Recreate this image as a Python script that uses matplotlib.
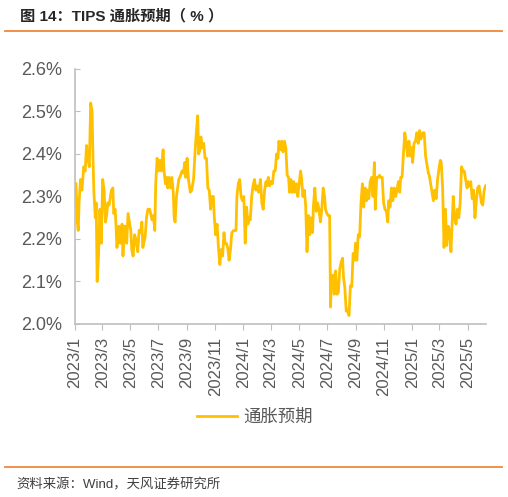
import matplotlib
matplotlib.use("Agg")
import matplotlib.pyplot as plt
import matplotlib.dates as mdates
from matplotlib.ticker import MultipleLocator, FuncFormatter
from matplotlib.lines import Line2D
import pandas as pd

plt.rcParams['font.family'] = ['Liberation Sans', 'Noto Sans CJK SC', 'DejaVu Sans']

# TIPS breakeven inflation (%)
days_2023 = [
    "01-03", "01-06", "01-08", "01-10", "01-13", "01-16", "01-20", "01-23", "01-26", "01-29",
    "02-01", "02-04", "02-07", "02-09", "02-11", "02-14", "02-16", "02-18", "02-21", "02-24",
    "02-27", "03-02", "03-05", "03-08", "03-11", "03-13", "03-16", "03-21", "03-24", "03-26",
    "03-29", "03-31", "04-02", "04-06", "04-09", "04-13", "04-15", "04-18", "04-20", "04-23",
    "04-26", "04-29", "05-02", "05-04", "05-07", "05-10", "05-13", "05-17", "05-20", "05-23",
    "05-26", "05-28", "06-02", "06-05", "06-08", "06-12", "06-17", "06-20", "06-23", "06-25",
    "06-28", "07-01", "07-04", "07-07", "07-11", "07-13", "07-16", "07-19", "07-21", "07-24",
    "07-27", "07-30", "08-02", "08-04", "08-06", "08-09", "08-14", "08-18", "08-21", "08-24",
    "08-27", "08-29", "09-01", "09-04", "09-08", "09-11", "09-15", "09-18", "09-21", "09-24",
    "09-26", "09-29", "10-01", "10-04", "10-07", "10-10", "10-13", "10-16", "10-19", "10-22",
    "10-25", "10-28", "10-30", "11-02", "11-05", "11-08", "11-11", "11-14", "11-17", "11-20",
    "11-22", "11-25", "11-28", "12-01", "12-04", "12-07", "12-11", "12-16", "12-18", "12-21",
    "12-24", "12-27", "12-30",
]
vals_2023 = [
    2.33, 2.24, 2.22, 2.29, 2.34, 2.315, 2.37, 2.36, 2.42, 2.39,
    2.37, 2.52, 2.50, 2.39, 2.31, 2.25, 2.285, 2.10, 2.16, 2.27,
    2.19, 2.34, 2.315, 2.24, 2.26, 2.285, 2.28, 2.315, 2.32, 2.26,
    2.27, 2.23, 2.18, 2.23, 2.19, 2.235, 2.16, 2.23, 2.23, 2.19,
    2.26, 2.24, 2.22, 2.175, 2.16, 2.21, 2.20, 2.17, 2.22, 2.215,
    2.24, 2.18, 2.205, 2.25, 2.27, 2.27, 2.245, 2.255, 2.22, 2.33,
    2.39, 2.36, 2.385, 2.36, 2.41, 2.36, 2.33, 2.345, 2.32, 2.345,
    2.32, 2.345, 2.31, 2.25, 2.24, 2.30, 2.34, 2.35, 2.36, 2.355,
    2.38, 2.345, 2.39, 2.34, 2.31, 2.315, 2.34, 2.40, 2.45, 2.49,
    2.40, 2.41, 2.44, 2.415, 2.425, 2.39, 2.39, 2.32, 2.315, 2.27,
    2.30, 2.30, 2.25, 2.21, 2.235, 2.18, 2.14, 2.175, 2.16, 2.215,
    2.19, 2.19, 2.18, 2.15, 2.175, 2.215, 2.22, 2.22, 2.30, 2.33,
    2.34, 2.30, 2.29,
]

days_2024 = [
    "01-02", "01-05", "01-08", "01-11", "01-13", "01-16", "01-19", "01-22", "01-25", "01-28",
    "01-31", "02-03", "02-07", "02-10", "02-13", "02-16", "02-19", "02-21", "02-24", "02-27",
    "03-01", "03-04", "03-07", "03-10", "03-13", "03-16", "03-18", "03-21", "03-24", "03-27",
    "03-30", "04-02", "04-05", "04-08", "04-10", "04-13", "04-16", "04-19", "04-22", "04-25",
    "04-28", "05-01", "05-04", "05-06", "05-09", "05-12", "05-15", "05-18", "05-21", "05-24",
    "05-27", "05-30", "06-01", "06-04", "06-07", "06-10", "06-13", "06-16", "06-19", "06-22",
    "06-25", "06-27", "06-30", "07-03", "07-06", "07-08", "07-10", "07-13", "07-16", "07-19",
    "07-22", "07-25", "07-28", "07-31", "08-03", "08-05", "08-08", "08-11", "08-14", "08-17",
    "08-20", "08-23", "08-26", "08-29", "08-31", "09-03", "09-06", "09-09", "09-12", "09-15",
    "09-18", "09-21", "09-24", "09-26", "09-29", "10-02", "10-05", "10-08", "10-11", "10-13",
    "10-16", "10-20", "10-22", "10-25", "10-28", "10-31", "11-03", "11-06", "11-09", "11-11",
    "11-14", "11-17", "11-20", "11-23", "11-26", "11-29", "12-02", "12-05", "12-07", "12-10",
    "12-13", "12-16", "12-19", "12-22", "12-25", "12-28", "12-31",
]
vals_2024 = [
    2.30, 2.19, 2.275, 2.235, 2.25, 2.245, 2.30, 2.325, 2.34, 2.315,
    2.325, 2.31, 2.34, 2.285, 2.27, 2.315, 2.335, 2.325, 2.345, 2.325,
    2.335, 2.33, 2.36, 2.36, 2.40, 2.39, 2.43, 2.41, 2.43, 2.405,
    2.43, 2.415, 2.35, 2.345, 2.31, 2.34, 2.31, 2.335, 2.31, 2.33,
    2.30, 2.33, 2.36, 2.345, 2.30, 2.315, 2.28, 2.17, 2.255, 2.21,
    2.25, 2.215, 2.28, 2.32, 2.265, 2.285, 2.27, 2.24, 2.27, 2.32,
    2.30, 2.27, 2.26, 2.255, 2.255, 2.04, 2.11, 2.115, 2.07, 2.125,
    2.07, 2.075, 2.13, 2.145, 2.155, 2.11, 2.085, 2.03, 2.035, 2.02,
    2.09, 2.088, 2.166, 2.15, 2.19, 2.15, 2.21, 2.205, 2.285, 2.33,
    2.275, 2.32, 2.29, 2.315, 2.295, 2.335, 2.345, 2.30, 2.38, 2.27,
    2.345, 2.345, 2.35, 2.345, 2.345, 2.285, 2.27, 2.265, 2.24, 2.29,
    2.275, 2.32, 2.29, 2.32, 2.30, 2.315, 2.335, 2.31, 2.345, 2.345,
    2.40, 2.45, 2.425, 2.395, 2.43, 2.395, 2.415,
]

days_2025 = [
    "01-02", "01-05", "01-08", "01-11", "01-14", "01-17", "01-20", "01-24", "01-27", "01-30",
    "02-02", "02-05", "02-07", "02-10", "02-13", "02-16", "02-19", "02-22", "02-25", "02-28",
    "03-03", "03-05", "03-08", "03-11", "03-14", "03-17", "03-20", "03-23", "03-26", "03-29",
    "03-31", "04-03", "04-06", "04-09", "04-12", "04-15", "04-18", "04-21", "04-24", "04-26",
    "04-30", "05-02", "05-05", "05-08", "05-11", "05-14", "05-17", "05-20", "05-23", "05-26",
    "05-28", "05-31", "06-03", "06-06", "06-09",
]
vals_2025 = [
    2.38, 2.425, 2.43, 2.45, 2.425, 2.455, 2.435, 2.45, 2.45, 2.395,
    2.375, 2.355, 2.35, 2.33, 2.31, 2.29, 2.315, 2.295, 2.34, 2.365,
    2.385, 2.38, 2.32, 2.18, 2.27, 2.185, 2.23, 2.22, 2.17, 2.245,
    2.30, 2.25, 2.235, 2.27, 2.25, 2.285, 2.37, 2.36, 2.36, 2.345,
    2.32, 2.335, 2.325, 2.335, 2.295, 2.315, 2.25, 2.29, 2.32, 2.325,
    2.31, 2.285, 2.28, 2.315, 2.325,
]

dates = pd.to_datetime(["2023-" + d for d in days_2023]
                       + ["2024-" + d for d in days_2024]
                       + ["2025-" + d for d in days_2025])
values = vals_2023 + vals_2024 + vals_2025

W, H = 508, 497
fig = plt.figure(figsize=(W / 100, H / 100), dpi=100)
ax = fig.add_axes([75 / W, 173 / H, 411 / W, 255 / H])

ax.plot(dates, values, color="#FFC000", lw=2.0, label="通胀预期")

ax.set_ylim(2.0, 2.6)
ax.set_xlim(pd.Timestamp("2023-01-01"), pd.Timestamp("2025-06-10"))
ax.yaxis.set_major_locator(MultipleLocator(0.1))
ax.yaxis.set_major_formatter(FuncFormatter(lambda v, p: f"{v:.1f}%"))
ax.xaxis.set_major_locator(mdates.MonthLocator(bymonth=[1, 3, 5, 7, 9, 11]))
ax.xaxis.set_major_formatter(
    FuncFormatter(lambda v, p: f"{mdates.num2date(v).year}/{mdates.num2date(v).month}"))

for s in ["top", "right"]:
    ax.spines[s].set_visible(False)
for s in ["left", "bottom"]:
    ax.spines[s].set_color("#BFBFBF")
    ax.spines[s].set_linewidth(1.2)

ax.tick_params(axis="y", direction="in", length=3.5, color="#BFBFBF",
               labelsize=13, labelcolor="#595959", pad=9)
ax.tick_params(axis="x", direction="out", length=4, color="#BFBFBF",
               labelsize=12, labelcolor="#595959", pad=5, labelrotation=90)

fig.legend(loc="center", bbox_to_anchor=(255 / W, 1 - 417 / H), frameon=False,
           fontsize=12.5, labelcolor="#595959", handlelength=2.3, handletextpad=0.4)

fig.text(20 / W, 1 - 16 / H, "图 14：TIPS 通胀预期（ % ）", fontsize=11,
         fontweight="bold", color="#262626", va="center", ha="left")
fig.add_artist(Line2D([5 / W, 502 / W], [1 - 31 / H, 1 - 31 / H],
                      color="#F0883A", lw=1.3))
fig.add_artist(Line2D([5 / W, 502 / W], [1 - 467 / H, 1 - 467 / H],
                      color="#F0883A", lw=1.3))
fig.text(16 / W, 1 - 485 / H, "资料来源：Wind，天风证券研究所", fontsize=9.6,
         color="#404040", va="center", ha="left")

fig.savefig("out.png", dpi=100)
